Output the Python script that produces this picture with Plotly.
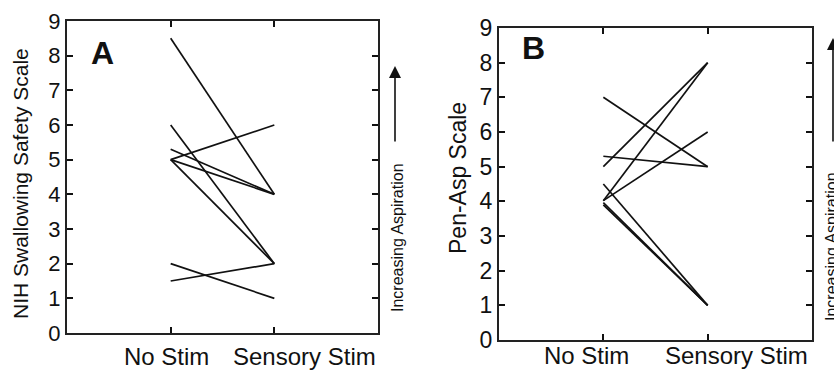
import plotly.graph_objects as go

# ---- data ----
categories = ["No Stim", "Sensory Stim"]
a_no_stim = [8.5, 6.0, 5.3, 5.0, 5.0, 5.0, 2.0, 1.5]
a_sensory = [4.0, 2.0, 4.0, 6.0, 4.0, 2.0, 1.0, 2.0]
b_no_stim = [7.0, 5.3, 5.0, 4.5, 4.02, 4.02, 3.96, 3.9]
b_sensory = [5.0, 5.0, 8.0, 1.0, 8.0, 6.0, 1.0, 1.0]
y_ticks = list(range(0, 10))
a_title = "NIH Swallowing Safety Scale"
b_title = "Pen-Asp Scale"
arrow_text = "Increasing Aspiration"

W, H = 834, 371
FONT = "Arial, Liberation Sans, sans-serif"
INK = "#111111"

fig = go.Figure()
cat_x = [1, 2]

for a0, a1 in zip(a_no_stim, a_sensory):
    fig.add_trace(go.Scatter(x=cat_x, y=[a0, a1], mode="lines",
                             line=dict(color=INK, width=1.7),
                             xaxis="x", yaxis="y", showlegend=False, hoverinfo="skip"))
for b0, b1 in zip(b_no_stim, b_sensory):
    fig.add_trace(go.Scatter(x=cat_x, y=[b0, b1], mode="lines",
                             line=dict(color=INK, width=1.7),
                             xaxis="x2", yaxis="y2", showlegend=False, hoverinfo="skip"))

def px_x(p):
    return p / W

def px_y(p):
    return 1 - p / H

xa = dict(range=[0, 3], tickvals=cat_x, showticklabels=False, ticks="inside",
          ticklen=6, tickwidth=1.5, tickcolor=INK, showline=True, linecolor="#222222",
          linewidth=2, mirror="ticks", showgrid=False, zeroline=False, fixedrange=True,
          automargin=False)
ya = dict(range=[0, 9], tickvals=y_ticks, ticks="inside", ticklen=6, tickwidth=1.5,
          tickcolor=INK, showline=True, linecolor="#222222", linewidth=2,
          mirror="ticks", showgrid=False, zeroline=False, fixedrange=True,
          automargin=False, tickfont=dict(family=FONT, size=22, color=INK))

fig.update_layout(
    width=W, height=H,
    margin=dict(l=0, r=0, t=0, b=0, autoexpand=False),
    paper_bgcolor="white", plot_bgcolor="white",
    xaxis=dict(xa, domain=[px_x(67), px_x(378)], anchor="y"),
    yaxis=dict(ya, domain=[px_y(333), px_y(21)], anchor="x"),
    xaxis2=dict(xa, domain=[px_x(499), px_x(812)], anchor="y2"),
    yaxis2=dict(ya, domain=[px_y(340), px_y(28)], anchor="x2",
                tickfont=dict(family=FONT, size=23, color=INK)),
)

ann = []
# category labels
for xr, xs, ys, sz in [("x", [0.955, 2.29], 356, 24), ("x2", [0.84, 2.28], 355, 24)]:
    for xv, lab in zip(xs, categories):
        ann.append(dict(x=xv, xref=xr, y=px_y(ys), yref="paper", text=lab, showarrow=False,
                        font=dict(family=FONT, size=sz, color=INK),
                        xanchor="center", yanchor="middle"))
# y titles
ann.append(dict(x=px_x(20), y=px_y(184), xref="paper", yref="paper", text=a_title,
                textangle=-90, showarrow=False, font=dict(family=FONT, size=21, color=INK),
                xanchor="center", yanchor="middle"))
ann.append(dict(x=px_x(458), y=px_y(178), xref="paper", yref="paper", text=b_title,
                textangle=-90, showarrow=False, font=dict(family=FONT, size=23, color=INK),
                xanchor="center", yanchor="middle"))
# panel letters
ann.append(dict(x=px_x(102), y=px_y(53), xref="paper", yref="paper", text="<b>A</b>",
                showarrow=False, font=dict(family=FONT, size=32, color=INK),
                xanchor="center", yanchor="middle"))
ann.append(dict(x=px_x(533), y=px_y(48), xref="paper", yref="paper", text="<b>B</b>",
                showarrow=False, font=dict(family=FONT, size=32, color=INK),
                xanchor="center", yanchor="middle"))
# increasing aspiration text + arrows
ann.append(dict(x=px_x(397), y=px_y(238), xref="paper", yref="paper", text=arrow_text,
                textangle=-90, showarrow=False, font=dict(family=FONT, size=16, color=INK),
                xanchor="center", yanchor="middle"))
ann.append(dict(x=px_x(832), y=px_y(247), xref="paper", yref="paper", text=arrow_text,
                textangle=-90, showarrow=False, font=dict(family=FONT, size=16, color=INK),
                xanchor="center", yanchor="middle"))
for ax_px, top, bot in [(395, 66, 143), (833, 38, 143)]:
    ann.append(dict(x=px_x(ax_px), y=px_y(top), xref="paper", yref="paper",
                    ax=0, ay=bot - top, axref="pixel", ayref="pixel",
                    text="", showarrow=True, arrowhead=2, arrowsize=1.5,
                    arrowwidth=1.6, arrowcolor=INK))

fig.update_layout(annotations=ann)
fig.write_html("out.html", config={"displayModeBar": False},
               post_script="document.body.style.margin='0';document.body.style.overflow='hidden';")
